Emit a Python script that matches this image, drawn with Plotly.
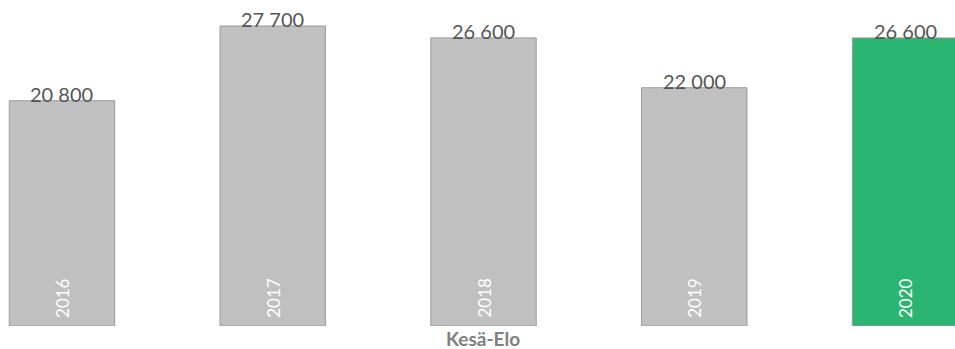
import plotly.graph_objects as go

years = ["2016", "2017", "2018", "2019", "2020"]
values = [20800, 27700, 26600, 22000, 26600]
bar_colors = ["#c0c0c0", "#c0c0c0", "#c0c0c0", "#c0c0c0", "#2ab573"]
axis_title = "Kesä-Elo"

xs = list(range(len(years)))
FONT = "Lato, 'Open Sans', sans-serif"

fig = go.Figure()
fig.add_trace(go.Bar(
    x=xs, y=values, width=0.5,
    marker=dict(color=bar_colors, line=dict(color="#9a9a9a", width=1)),
    hoverinfo="skip", showlegend=False,
))

for x, v in zip(xs, values):
    fig.add_annotation(x=x, y=v, text=f"{v:,}".replace(",", " "), showarrow=False,
                       yanchor="bottom", xanchor="center", yshift=-7,
                       font=dict(family=FONT, size=20, color="#555555"))
for x, yr in zip(xs, years):
    fig.add_annotation(x=x, y=0, text=yr, showarrow=False, textangle=-90,
                       yanchor="bottom", xanchor="center", yshift=6,
                       font=dict(family=FONT, size=17, color="#ffffff"))

fig.add_annotation(xref="paper", yref="paper", x=0.506, y=0, yanchor="top", yshift=1,
                   text=axis_title, showarrow=False,
                   font=dict(family=FONT, size=19, color="#808080", weight="bold"))

fig.update_layout(
    width=955, height=349,
    margin=dict(l=0, r=0, t=0, b=23),
    paper_bgcolor="white", plot_bgcolor="white",
    xaxis=dict(range=[-0.294, 4.237], showticklabels=False, showgrid=False,
               zeroline=False, showline=False, ticks=""),
    yaxis=dict(range=[0, 30100], showticklabels=False, showgrid=False,
               zeroline=False, showline=False, ticks=""),
)

fig.write_html("out.html")
